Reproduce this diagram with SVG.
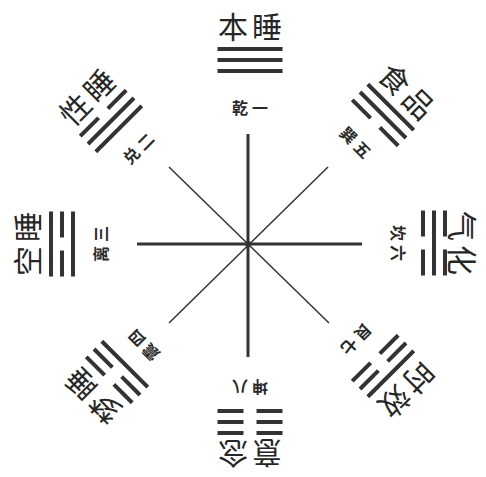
<svg xmlns="http://www.w3.org/2000/svg" xmlns:xlink="http://www.w3.org/1999/xlink" width="486" height="477" viewBox="0 0 486 477">
<style>
.big{font-family:"Noto Sans CJK SC","Noto Sans CJK TC",sans-serif;font-size:30px;fill:#262626;text-anchor:middle;dominant-baseline:central;letter-spacing:4px}
.lbl{font-family:"Noto Sans CJK SC","Noto Sans CJK TC",sans-serif;font-size:16px;font-weight:700;fill:#2a2a2a;text-anchor:middle;dominant-baseline:central;letter-spacing:4px}
.bar{stroke:#333;stroke-width:4;fill:none}
.axis{stroke:#333;stroke-width:3}
.diag{stroke:#333;stroke-width:1.5}
</style>
<defs>
<g id="s"><line class="bar" x1="-32.5" y1="0" x2="32.5" y2="0"/></g>
<g id="b"><line class="bar" x1="-32.5" y1="0" x2="-6.5" y2="0"/><line class="bar" x1="6.5" y1="0" x2="32.5" y2="0"/></g>
</defs>
<rect width="486" height="477" fill="#fff"/>
<g id="connectors">
<line class="diag" x1="169" y1="167" x2="329" y2="323"/>
<line class="diag" x1="328" y1="167" x2="169" y2="323"/>
<line class="axis" x1="248" y1="134" x2="248" y2="357"/>
<line class="axis" x1="137" y1="244" x2="362" y2="244"/>
<circle cx="248" cy="244" r="3" fill="#333"/>
</g>
<g id="qian" transform="translate(250,60) rotate(0)">
<text class="big" x="2" y="-35">本睡</text>
<use href="#s" y="-11"/><use href="#s" y="0"/><use href="#s" y="11"/>
<text class="lbl" x="2" y="47">乾一</text>
</g>
<g id="xun" transform="translate(383,115) rotate(45)">
<text class="big" x="2" y="-35">食品</text>
<use href="#s" y="-11"/><use href="#s" y="0"/><use href="#b" y="11"/>
<text class="lbl" x="2" y="38">巽五</text>
</g>
<g id="kan" transform="translate(434,243) rotate(90)">
<text class="big" x="2" y="-30">气化</text>
<use href="#b" y="-11"/><use href="#s" y="0"/><use href="#b" y="11"/>
<text class="lbl" x="2" y="35">坎六</text>
</g>
<g id="gen" transform="translate(383,366) rotate(135)">
<text class="big" x="2" y="-35">时效</text>
<use href="#s" y="-11"/><use href="#b" y="0"/><use href="#b" y="11"/>
<text class="lbl" x="2" y="37">艮七</text>
</g>
<g id="kun" transform="translate(250,422) rotate(180)">
<text class="big" x="2" y="-33">意念</text>
<use href="#b" y="-11"/><use href="#b" y="0"/><use href="#b" y="11"/>
<text class="lbl" x="2" y="34">坤八</text>
</g>
<g id="zhen" transform="translate(117,372) rotate(225)">
<text class="big" x="2" y="-35">梦睡</text>
<use href="#b" y="-11"/><use href="#b" y="0"/><use href="#s" y="11"/>
<text class="lbl" x="2" y="37">震四</text>
</g>
<g id="li" transform="translate(62,244) rotate(270)">
<text class="big" x="2" y="-36">空睡</text>
<use href="#s" y="-11"/><use href="#b" y="0"/><use href="#s" y="11"/>
<text class="lbl" x="2" y="38">离三</text>
</g>
<g id="dui" transform="translate(111,121) rotate(315)">
<text class="big" x="2" y="-35">性睡</text>
<use href="#b" y="-11"/><use href="#s" y="0"/><use href="#s" y="11"/>
<text class="lbl" x="2" y="38">兑二</text>
</g>
</svg>
